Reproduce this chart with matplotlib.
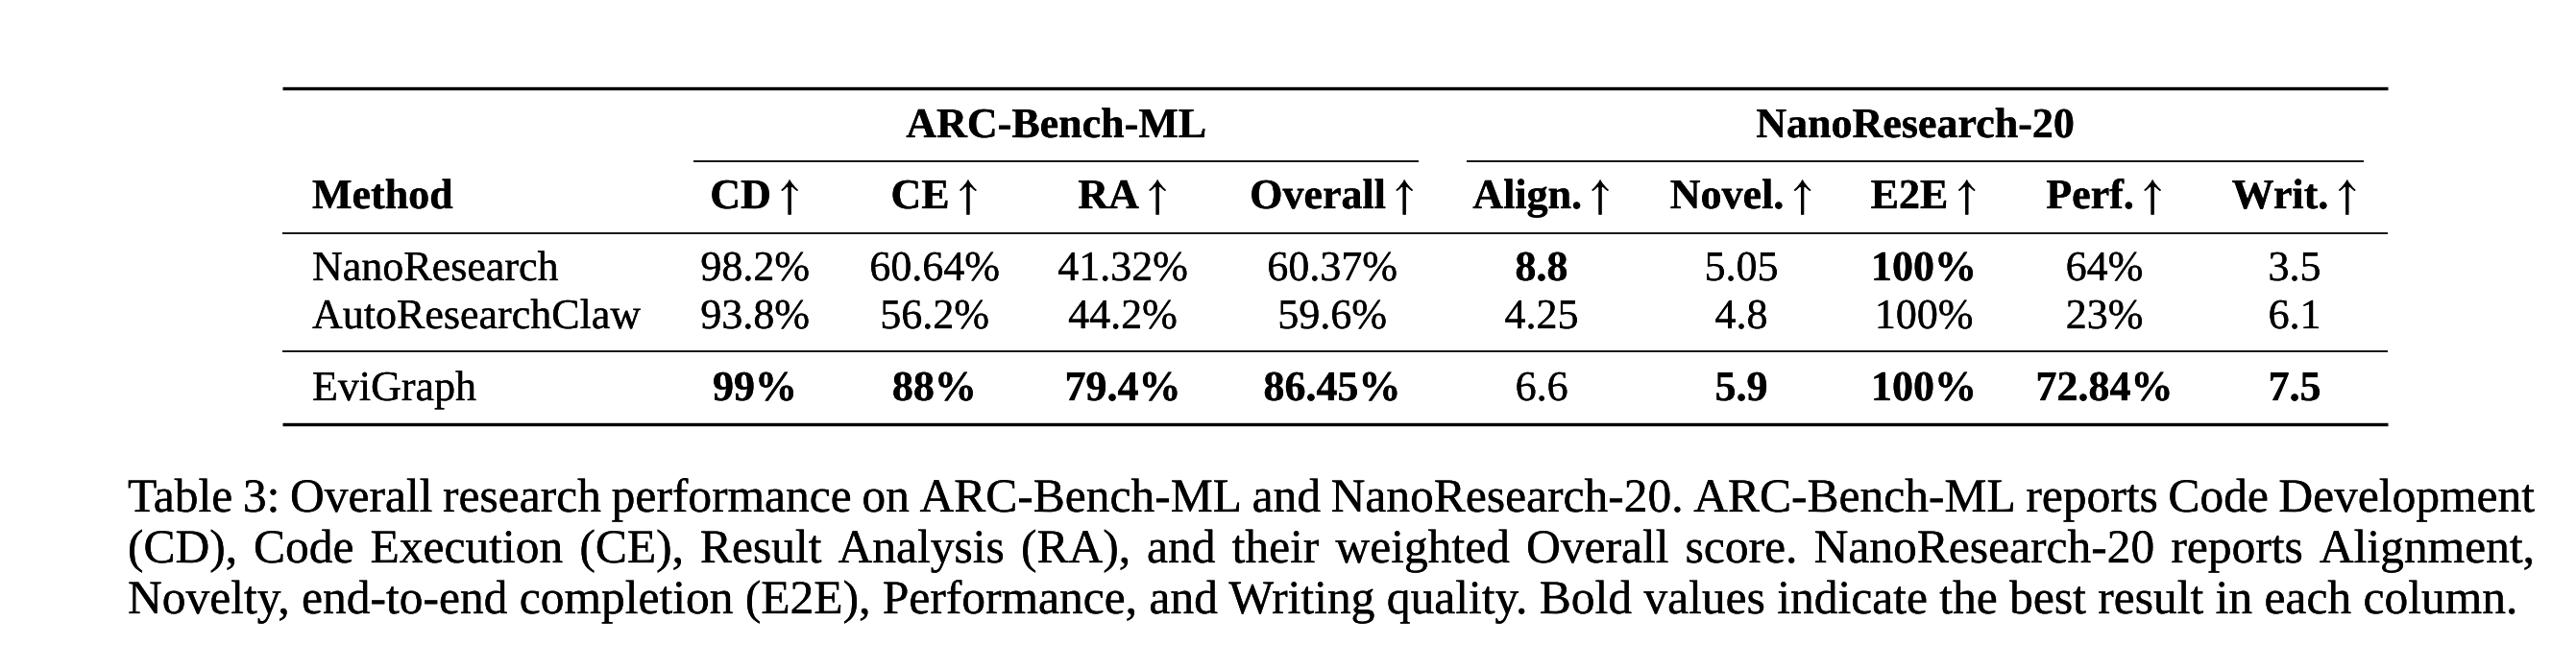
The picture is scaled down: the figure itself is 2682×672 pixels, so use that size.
import matplotlib
matplotlib.use("Agg")
import matplotlib.pyplot as plt
import matplotlib.patheffects as pe

# ---------------- data ----------------
methods = ["NanoResearch", "AutoResearchClaw", "EviGraph"]
group_names = ["ARC-Bench-ML", "NanoResearch-20"]
group_sizes = [4, 5]
metric_labels = ["CD", "CE", "RA", "Overall", "Align.", "Novel.", "E2E", "Perf.", "Writ."]
cd = [98.2, 93.8, 99]
ce = [60.64, 56.2, 88]
ra = [41.32, 44.2, 79.4]
overall = [60.37, 59.6, 86.45]
align = [8.8, 4.25, 6.6]
novel = [5.05, 4.8, 5.9]
e2e = [100, 100, 100]
perf = [64, 23, 72.84]
writ = [3.5, 6.1, 7.5]
is_percent = [True, True, True, True, False, False, True, True, False]
bold_cells = [
    [False, False, False, False, True, False, True, False, False],
    [False, False, False, False, False, False, False, False, False],
    [True, True, True, True, False, True, True, True, True],
]
caption_lines = [
    "Table 3: Overall research performance on ARC-Bench-ML and NanoResearch-20. ARC-Bench-ML reports Code Development",
    "(CD), Code Execution (CE), Result Analysis (RA), and their weighted Overall score. NanoResearch-20 reports Alignment,",
    "Novelty, end-to-end completion (E2E), Performance, and Writing quality. Bold values indicate the best result in each column.",
]
caption_justified = [True, True, False]

columns = [cd, ce, ra, overall, align, novel, e2e, perf, writ]

# ---------------- layout (pixels) ----------------
W, H = 2682, 672
FAM = ["Liberation Serif", "DejaVu Serif"]
PX = 0.72  # points per pixel at dpi 100
table_fs = 44.0 * PX
cap_fs = 49.5 * PX
STROKE = [pe.withStroke(linewidth=0.2, foreground="black")]

rule_x0, rule_x1 = 294, 2486
top_y, bottom_y = 92, 442
mid_ys = [243, 366]
cmid_spans = [(722, 1477), (1527, 2461)]
cmid_y = 168
group_y = 143
head_y = 217
row_ys = [292, 342, 417]
method_x = 325
col_x = [786, 973, 1169, 1387, 1605, 1813, 2003, 2191, 2389]
cap_x0, cap_x1 = 133, 2639
cap_ys = [533, 586, 639]

fig = plt.figure(figsize=(W / 100, H / 100), dpi=100)
fig.patch.set_facecolor("white")
ax = fig.add_axes([0, 0, 1, 1])
ax.set_xlim(0, W)
ax.set_ylim(H, 0)
ax.axis("off")

# rules
thick, thin = 3.4 * PX, 1.8 * PX
ax.plot([rule_x0, rule_x1], [top_y, top_y], color="black", lw=thick, solid_capstyle="butt")
ax.plot([rule_x0, rule_x1], [bottom_y, bottom_y], color="black", lw=thick, solid_capstyle="butt")
for y in mid_ys:
    ax.plot([rule_x0, rule_x1], [y, y], color="black", lw=thin, solid_capstyle="butt")
for (a, b) in cmid_spans:
    ax.plot([a, b], [cmid_y, cmid_y], color="black", lw=thin, solid_capstyle="butt")

renderer = fig.canvas.get_renderer()

def width_of(t):
    return t.get_window_extent(renderer).width

def txt(x, y, s, fs, bold=False, ha="left", **kw):
    if "math_fontfamily" not in kw:
        kw["family"] = FAM
    return ax.text(x, y, s, ha=ha, va="baseline", fontsize=fs,
                   fontweight="bold" if bold else "normal",
                   path_effects=STROKE, **kw)

# group headers
for name, span in zip(group_names, cmid_spans):
    a, b = span
    txt((a + b) / 2, group_y, name, table_fs, bold=True, ha="center")

# column headers: bold label + math arrow
txt(method_x, head_y, "Method", table_fs, bold=True)
for x, lab in zip(col_x, metric_labels):
    t1 = txt(0, head_y, lab, table_fs, bold=True)
    t2 = txt(0, head_y, r"$\uparrow$", table_fs, math_fontfamily="stix")
    w1, w2 = width_of(t1), width_of(t2)
    gap = 0.04 * 44.0
    left = x - (w1 + gap + w2) / 2
    t1.set_x(left)
    t2.set_x(left + w1 + gap)

# body
for r, (m, y) in enumerate(zip(methods, row_ys)):
    txt(method_x, y, m, table_fs)
    for c, x in enumerate(col_x):
        v = columns[c][r]
        s = f"{v:g}" + ("%" if is_percent[c] else "")
        txt(x, y, s, table_fs, bold=bold_cells[r][c], ha="center")

# caption
for line, y, just in zip(caption_lines, cap_ys, caption_justified):
    if not just:
        txt(cap_x0, y, line, cap_fs)
        continue
    words = line.split(" ")
    ts = [txt(0, y, w, cap_fs) for w in words]
    ws = [width_of(t) for t in ts]
    gap = (cap_x1 - cap_x0 - sum(ws)) / (len(words) - 1)
    x = cap_x0
    for t, w in zip(ts, ws):
        t.set_x(x)
        x += w + gap

fig.savefig("out.png", dpi=100, facecolor="white")
